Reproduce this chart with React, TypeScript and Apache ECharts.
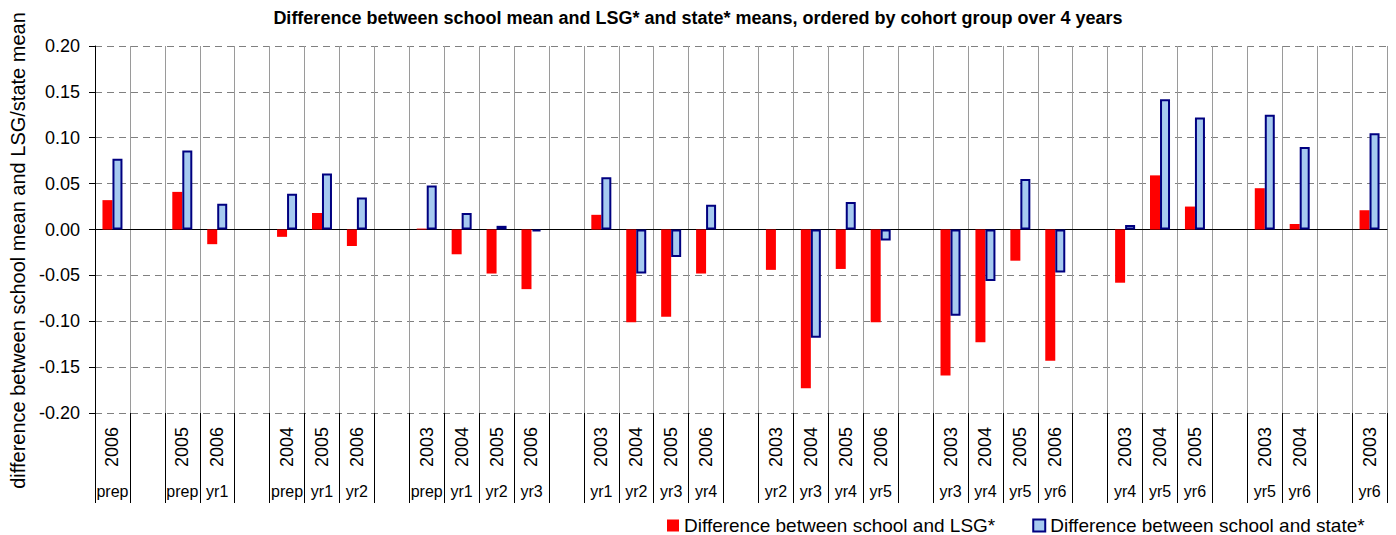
import React, { useEffect, useRef } from 'react';
import * as echarts from 'echarts';

const titleText =
  'Difference between school mean and LSG* and state* means, ordered by cohort group over 4 years';
const yAxisName = 'difference between school mean and LSG/state mean';
const seriesNames = ['Difference between school and LSG*', 'Difference between school and state*'];

// Category axis, level 1 (year) and level 2 (cohort); '' marks a spacer category
const years = [
  '2006', '',
  '2005', '2006', '',
  '2004', '2005', '2006', '',
  '2003', '2004', '2005', '2006', '',
  '2003', '2004', '2005', '2006', '',
  '2003', '2004', '2005', '2006', '',
  '2003', '2004', '2005', '2006', '',
  '2003', '2004', '2005', '',
  '2003', '2004', '',
  '2003',
];
const cohorts = [
  'prep', '',
  'prep', 'yr1', '',
  'prep', 'yr1', 'yr2', '',
  'prep', 'yr1', 'yr2', 'yr3', '',
  'yr1', 'yr2', 'yr3', 'yr4', '',
  'yr2', 'yr3', 'yr4', 'yr5', '',
  'yr3', 'yr4', 'yr5', 'yr6', '',
  'yr4', 'yr5', 'yr6', '',
  'yr5', 'yr6', '',
  'yr6',
];

const lsgDiff = [
  0.032, null,
  0.041, -0.016, null,
  -0.008, 0.018, -0.018, null,
  0.001, -0.027, -0.048, -0.065, null,
  0.016, -0.101, -0.095, -0.048, null,
  -0.044, -0.173, -0.043, -0.101, null,
  -0.159, -0.123, -0.034, -0.143, null,
  -0.058, 0.059, 0.025, null,
  0.045, 0.006, null,
  0.021,
];
const stateDiff = [
  0.077, null,
  0.086, 0.028, null,
  0.039, 0.061, 0.035, null,
  0.048, 0.018, 0.004, -0.002, null,
  0.057, -0.048, -0.030, 0.027, null,
  null, -0.118, 0.030, -0.012, null,
  -0.094, -0.056, 0.055, -0.047, null,
  0.005, 0.142, 0.122, null,
  0.125, 0.090, null,
  0.105,
];

const FONT = '"Liberation Sans", Arial, Helvetica, sans-serif';

export default function App() {
  const ref = useRef<HTMLDivElement>(null);

  useEffect(() => {
    document.body.style.margin = '0';
    const chart = echarts.init(ref.current as HTMLDivElement, null, { renderer: 'svg' });
    const idx = years.map((_, i) => String(i));

    chart.setOption({
      animation: false,
      backgroundColor: '#ffffff',
      textStyle: { fontFamily: FONT },
      title: {
        text: titleText,
        left: 'center',
        top: 9,
        padding: 0,
        textStyle: { fontSize: 18, fontWeight: 'bold', color: '#000', fontFamily: FONT },
      },
      legend: {
        data: seriesNames,
        left: 667,
        top: 516,
        padding: 0,
        icon: 'rect',
        itemWidth: 12,
        itemHeight: 12,
        itemGap: 37,
        textStyle: { fontSize: 19, lineHeight: 19, color: '#000', fontFamily: FONT },
      },
      grid: { left: 95, right: 9, top: 46, bottom: 122 },
      xAxis: [
        {
          type: 'category',
          data: idx,
          axisLine: { show: true, onZero: true, lineStyle: { color: '#000', width: 1 } },
          axisTick: { show: false },
          axisLabel: { show: false },
          splitLine: { show: true, interval: 0, lineStyle: { color: '#9a9a9a', width: 1 } },
        },
        {
          type: 'category',
          data: idx,
          position: 'bottom',
          axisLine: { show: false, onZero: false },
          axisTick: { show: true, interval: 0, length: 90, lineStyle: { color: '#000', width: 1 } },
          axisLabel: {
            interval: 0,
            rotate: 90,
            margin: 14,
            fontSize: 18,
            color: '#000',
            fontFamily: FONT,
            formatter: (_v: string, i: number) => years[i],
          },
          splitLine: { show: false },
        },
        {
          type: 'category',
          data: idx,
          position: 'bottom',
          axisLine: { show: false, onZero: false },
          axisTick: { show: false },
          axisLabel: {
            interval: 0,
            margin: 70,
            fontSize: 16,
            color: '#000',
            fontFamily: FONT,
            formatter: (_v: string, i: number) => cohorts[i],
          },
          splitLine: { show: false },
        },
      ],
      yAxis: {
        type: 'value',
        min: -0.2,
        max: 0.2,
        interval: 0.05,
        name: yAxisName,
        nameLocation: 'middle',
        nameRotate: 90,
        nameGap: 66,
        nameTextStyle: { fontSize: 20, color: '#000', fontFamily: FONT, padding: [0, 42, 0, 0] },
        axisLine: { show: true, lineStyle: { color: '#000', width: 1 } },
        axisTick: { show: true, length: 6, lineStyle: { color: '#000' } },
        axisLabel: {
          margin: 15,
          fontSize: 18,
          color: '#000',
          fontFamily: FONT,
          formatter: (v: number) => v.toFixed(2),
        },
        splitLine: { show: true, lineStyle: { color: '#808080', width: 1, type: [7, 5] } },
      },
      series: [
        {
          name: seriesNames[0],
          type: 'bar',
          xAxisIndex: 0,
          data: lsgDiff,
          barWidth: 10,
          barGap: '0%',
          itemStyle: { color: '#ff0000' },
        },
        {
          name: seriesNames[1],
          type: 'bar',
          xAxisIndex: 0,
          data: stateDiff,
          barWidth: 10,
          barGap: '0%',
          itemStyle: { color: '#a6caf0', borderColor: '#000080', borderWidth: 2 },
        },
      ],
    });

    return () => chart.dispose();
  }, []);

  return <div ref={ref} style={{ width: 1396, height: 535 }} />;
}
